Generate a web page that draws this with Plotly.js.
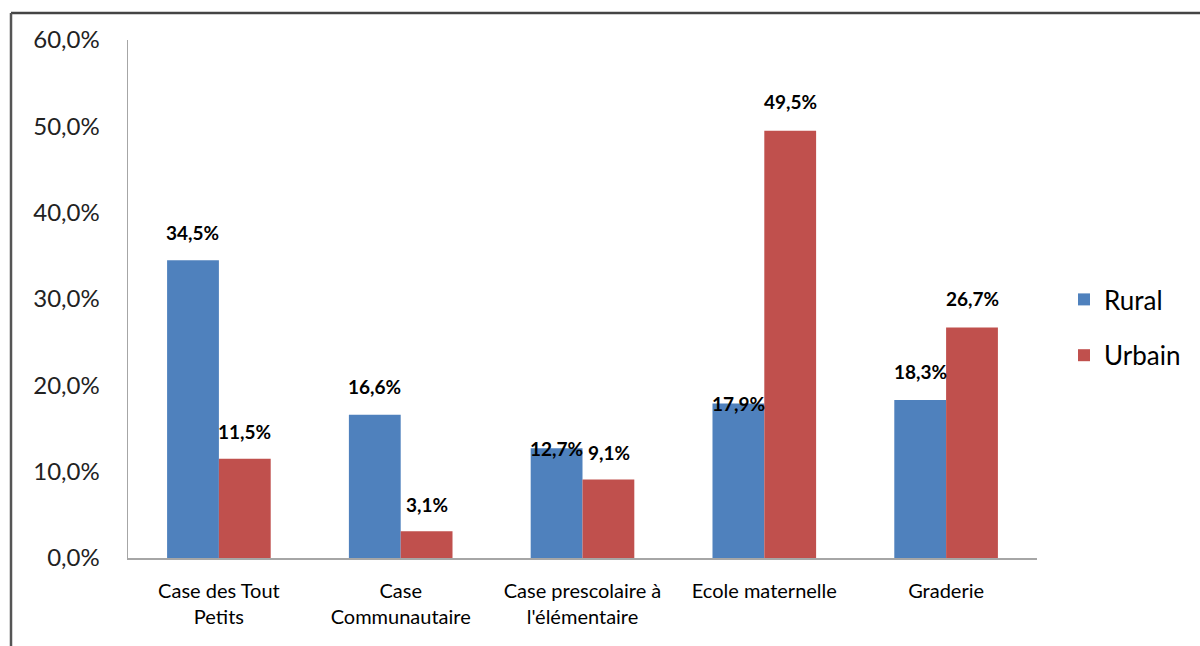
<!DOCTYPE html>
<html><head><meta charset="utf-8">
<script src="https://cdn.plot.ly/plotly-3.0.1.min.js"></script>
<style>html,body{margin:0;padding:0;background:#fff}#c{width:1200px;height:646px}</style>
</head><body><div id="c"></div>
<script>
const categories = ["Case des Tout<br>Petits", "Case<br>Communautaire", "Case prescolaire à<br>l'élémentaire", "Ecole maternelle", "Graderie"];
const rural = [34.5, 16.6, 12.7, 17.9, 18.3];
const urbain = [11.5, 3.1, 9.1, 49.5, 26.7];
const seriesNames = ["Rural", "Urbain"];
const colors = ["#4F81BD", "#C0504D"];
// label lift above bar top (px); some labels sit at the bar top
const liftRural = [28, 28, 0, 0, 29];
const liftUrbain = [27, 27, 27, 29, 29];

const W = 1200, H = 646;
const mL = 128, mR = 163, mT = 40, mB = 88;
const pw = W - mL - mR, ph = H - mT - mB;
const font = "Lato, 'Open Sans', sans-serif";

function fmt(v){ return v.toFixed(1).replace('.', ',') + '%'; }

const traces = [rural, urbain].map((vals, i) => ({
  type: 'bar', x: categories, y: vals, name: seriesNames[i],
  marker: {color: colors[i]}, legendgroup: 'g' + i, hoverinfo: 'skip'
}));

const annotations = [];
[[rural, liftRural, -1], [urbain, liftUrbain, 1]].forEach(([vals, lifts, side]) => {
  vals.forEach((v, k) => {
    annotations.push({
      x: categories[k], y: v, xref: 'x', yref: 'y', text: '<b>' + fmt(v) + '</b>',
      showarrow: false, xshift: side * 26, yshift: lifts[k], yanchor: 'middle',
      font: {family: font, size: 19, color: '#000'}
    });
  });
});

const px2x = p => (p - mL) / pw;
const px2y = p => (H - mB - p) / ph;

const layout = {
  width: W, height: H,
  margin: {l: mL, r: mR, t: mT, b: mB, pad: 0, autoexpand: false},
  paper_bgcolor: '#fff', plot_bgcolor: '#fff',
  separators: ', ',
  barmode: 'group', bargap: 0.43, bargroupgap: 0,
  showlegend: true,
  legend: {xref: 'container', yref: 'container', x: 1064 / W, y: 1 - 276 / H, xanchor: 'left', yanchor: 'top',
    font: {family: font, size: 26, color: '#000'}, tracegroupgap: 19,
    traceorder: 'grouped', itemwidth: 30, bgcolor: 'rgba(0,0,0,0)'},
  xaxis: {type: 'category', showgrid: false, zeroline: false, automargin: false,
    showline: true, linecolor: '#A6A6A6', linewidth: 1.5,
    ticks: 'outside', ticklen: 14, tickcolor: 'rgba(0,0,0,0)',
    tickfont: {family: font, size: 20, color: '#000'}},
  yaxis: {range: [0, 60], dtick: 10, tick0: 0, showgrid: false, zeroline: false, automargin: false,
    showline: true, linecolor: '#A6A6A6', linewidth: 1.5,
    tickformat: '.1f', ticksuffix: '%',
    ticks: 'outside', ticklen: 22, tickcolor: 'rgba(0,0,0,0)',
    tickfont: {family: font, size: 24, color: '#222'}},
  annotations: annotations,
  shapes: [
    {type: 'line', xref: 'paper', yref: 'paper', x0: px2x(11), x1: px2x(1200), y0: px2y(13), y1: px2y(13), line: {color: '#444', width: 2.5}},
    {type: 'line', xref: 'paper', yref: 'paper', x0: px2x(11), x1: px2x(11), y0: px2y(13), y1: px2y(646), line: {color: '#555', width: 2.5}}
  ]
};

Plotly.newPlot('c', traces, layout, {displayModeBar: false, staticPlot: true});
</script></body></html>
